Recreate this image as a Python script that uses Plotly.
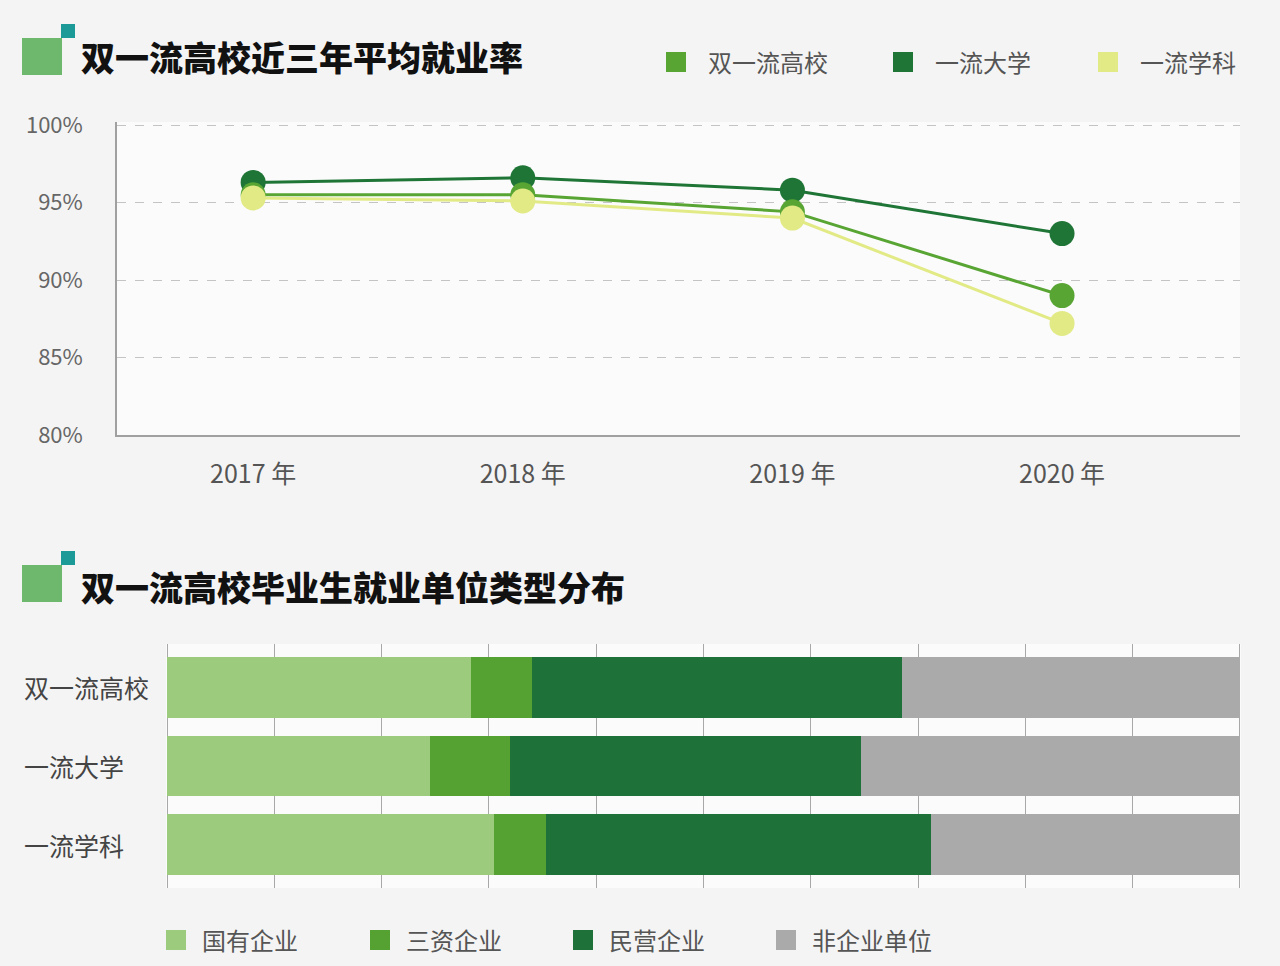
import plotly.graph_objects as go

# ---------------- data ----------------
years = ["2017 年", "2018 年", "2019 年", "2020 年"]
line_names = ["双一流高校", "一流大学", "一流学科"]
rate_syl = [95.5, 95.5, 94.4, 89.0]      # 双一流高校
rate_ylu = [96.3, 96.6, 95.8, 93.0]      # 一流大学
rate_ylx = [95.3, 95.1, 94.0, 87.2]      # 一流学科
y_ticks = [80, 85, 90, 95, 100]
y_tick_text = ["80%", "85%", "90%", "95%", "100%"]

bar_cats = ["双一流高校", "一流大学", "一流学科"]
bar_series = ["国有企业", "三资企业", "民营企业", "非企业单位"]
state_owned = [28.3, 24.5, 30.5]
foreign = [5.7, 7.5, 4.8]
private = [34.5, 32.7, 35.9]
non_enterprise = [31.5, 35.3, 28.8]

# ---------------- styles ----------------
FONT = "Noto Sans CJK SC"
line_colors = {"双一流高校": "#58a533", "一流大学": "#1e7536", "一流学科": "#e2ea86"}
bar_colors = ["#9ccb7e", "#55a232", "#1f713a", "#aaaaaa"]

W, H = 1280, 966

def px(x):
    return x / W

def py(y):
    return 1 - y / H

fig = go.Figure()

# line chart (draw order: dark, mid, yellow on top)
for name, vals in [("一流大学", rate_ylu), ("双一流高校", rate_syl), ("一流学科", rate_ylx)]:
    fig.add_trace(go.Scatter(
        x=years, y=vals, name=name, mode="lines+markers",
        line=dict(color=line_colors[name], width=3),
        marker=dict(color=line_colors[name], size=25),
        showlegend=False, xaxis="x", yaxis="y"))

# stacked bars
for s, vals, c in zip(bar_series, [state_owned, foreign, private, non_enterprise], bar_colors):
    fig.add_trace(go.Bar(
        y=bar_cats, x=vals, name=s, orientation="h",
        marker=dict(color=c, line=dict(width=0)),
        showlegend=False, xaxis="x2", yaxis="y2"))

shapes = []
annotations = []

# title icons
for top in [38, 565]:
    y0 = top
    shapes.append(dict(type="rect", xref="paper", yref="paper",
                       x0=px(22), x1=px(62), y0=py(y0 + 37), y1=py(y0),
                       fillcolor="#6db86c", line=dict(width=0)))
    shapes.append(dict(type="rect", xref="paper", yref="paper",
                       x0=px(61), x1=px(75), y0=py(y0), y1=py(y0 - 14),
                       fillcolor="#1c9a98", line=dict(width=0)))

annotations.append(dict(text="双一流高校近三年平均就业率", xref="paper", yref="paper",
                        x=px(79), y=py(56), xanchor="left", yanchor="middle",
                        showarrow=False, font=dict(family=FONT, size=34, color="#111111", weight=900)))
annotations.append(dict(text="双一流高校毕业生就业单位类型分布", xref="paper", yref="paper",
                        x=px(79), y=py(586), xanchor="left", yanchor="middle",
                        showarrow=False, font=dict(family=FONT, size=34, color="#111111", weight=900)))

# top legend
for name, sx in zip(line_names, [666, 893, 1098]):
    shapes.append(dict(type="rect", xref="paper", yref="paper",
                       x0=px(sx), x1=px(sx + 20), y0=py(72), y1=py(52),
                       fillcolor=line_colors[name], line=dict(width=0)))
    annotations.append(dict(text=name, xref="paper", yref="paper",
                            x=px(sx + 40), y=py(61), xanchor="left", yanchor="middle",
                            showarrow=False, font=dict(family=FONT, size=24, color="#555555")))

# bottom legend
for s, c, sx in zip(bar_series, bar_colors, [166, 370, 573, 776]):
    shapes.append(dict(type="rect", xref="paper", yref="paper",
                       x0=px(sx), x1=px(sx + 20), y0=py(950), y1=py(930),
                       fillcolor=c, line=dict(width=0)))
    annotations.append(dict(text=s, xref="paper", yref="paper",
                            x=px(sx + 34), y=py(939), xanchor="left", yanchor="middle",
                            showarrow=False, font=dict(family=FONT, size=24, color="#555555")))

# bar category labels (left-aligned)
for cat in bar_cats:
    annotations.append(dict(text=cat, xref="paper", yref="y2",
                            x=px(22), y=cat, xanchor="left", yanchor="middle",
                            showarrow=False, font=dict(family=FONT, size=25, color="#444444")))

fig.update_layout(
    width=W, height=H,
    autosize=False,
    margin=dict(l=0, r=0, t=0, b=0, pad=0),
    paper_bgcolor="#f4f4f4",
    plot_bgcolor="#fbfbfb",
    barmode="stack",
    bargap=0.23,
    font=dict(family=FONT, color="#555555"),
    shapes=shapes,
    annotations=annotations,
    xaxis=dict(domain=[px(117), px(1240)], anchor="y", automargin=False,
               type="category", range=[-0.505, 3.66],
               showgrid=False, zeroline=False,
               showline=True, linecolor="#a0a0a0", linewidth=1.5,
               ticks="", tickfont=dict(family=FONT, size=25, color="#555555"),
               ticklabelstandoff=16),
    yaxis=dict(domain=[py(435), py(122)], anchor="x", automargin=False,
               range=[80, 100.2], tickvals=y_ticks, ticktext=y_tick_text,
               showgrid=True, gridcolor="#c4c4c4", griddash="dash", gridwidth=1,
               zeroline=False, showline=True, linecolor="#a0a0a0", linewidth=1.5,
               ticks="", tickfont=dict(family=FONT, size=22, color="#666666"),
               ticklabelstandoff=28),
    xaxis2=dict(domain=[px(166), px(1241)], anchor="y2", automargin=False,
                range=[-0.1, 100.1], dtick=10, tick0=0,
                showgrid=True, gridcolor="#a8a8a8", gridwidth=1,
                zeroline=False, showline=False, showticklabels=False, ticks=""),
    yaxis2=dict(domain=[py(888), py(644)], anchor="x2", automargin=False,
                type="category", categoryorder="array", categoryarray=bar_cats,
                range=[2.55, -0.55],
                showgrid=False, zeroline=False, showline=False,
                showticklabels=False, ticks=""),
)

fig.write_html("out.html", config={"displayModeBar": False},
               post_script="document.body.style.margin='0';document.body.style.padding='0';document.body.style.overflow='hidden';")
